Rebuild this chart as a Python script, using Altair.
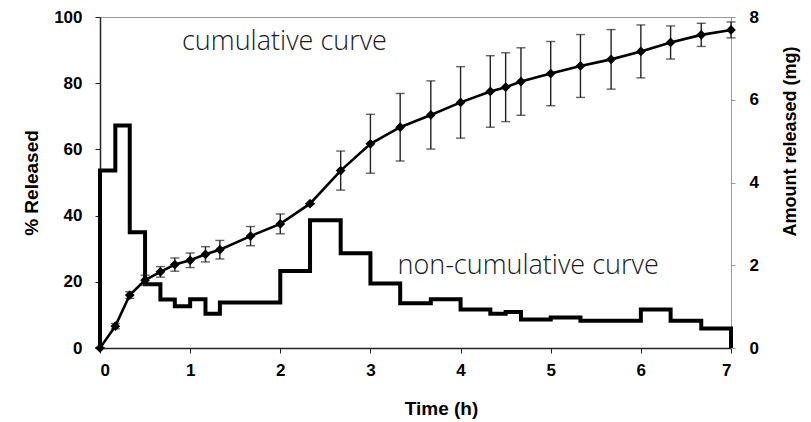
import altair as alt
import pandas as pd

# ---- data ----
times = [0, 0.17, 0.33, 0.5, 0.67, 0.83, 1, 1.17, 1.33, 1.67, 2, 2.33, 2.67, 3,
         3.33, 3.67, 4, 4.33, 4.5, 4.67, 5, 5.33, 5.67, 6, 6.33, 6.67, 7]
cum_pct = [0, 6.6, 16.0, 20.5, 23.0, 25.2, 26.5, 28.3, 29.7, 33.8, 37.5, 43.6, 53.6, 61.7,
           66.7, 70.4, 74.2, 77.5, 78.8, 80.5, 82.9, 85.2, 87.2, 89.6, 92.3, 94.6, 96.1]
cum_sd = [0, 0.8, 1.0, 1.5, 1.6, 2.0, 2.2, 2.3, 2.8, 2.9, 3.0, 0, 5.9, 8.9,
          10.2, 10.3, 10.8, 10.8, 10.4, 10.2, 9.7, 9.5, 9.0, 8.0, 5.0, 3.5, 2.4]

step_start = [0, 0.17, 0.33, 0.5, 0.67, 0.83, 1, 1.17, 1.33, 2, 2.33, 2.67, 3,
              3.33, 3.67, 4, 4.33, 4.5, 4.67, 5, 5.33, 6, 6.33, 6.67]
step_mg = [4.29, 5.38, 2.80, 1.54, 1.17, 1.01, 1.18, 0.83, 1.10, 1.86, 3.09, 2.29, 1.56,
           1.08, 1.18, 0.93, 0.83, 0.87, 0.69, 0.74, 0.66, 0.93, 0.66, 0.47]
t_end = 7

x_ticks = [0, 1, 2, 3, 4, 5, 6, 7]
left_ticks = [0, 20, 40, 60, 80, 100]
right_ticks = [0, 2, 4, 6, 8]

cum_df = pd.DataFrame({
    "t": times,
    "pct": cum_pct,
    "lo": [c - s for c, s in zip(cum_pct, cum_sd)],
    "hi": [c + s for c, s in zip(cum_pct, cum_sd)],
})

st_t = [0] + step_start + [t_end, t_end]
st_v = [0] + step_mg + [step_mg[-1], 0]
step_df = pd.DataFrame({"t": st_t, "mg": st_v, "i": list(range(len(st_t)))})

FONT = "Liberation Sans"
LAB = 17
TIT = 19

x_scale = alt.Scale(domain=[0, 7], nice=False, zero=False)
x_axis = alt.Axis(values=x_ticks, title="Time (h)", format="d", grid=False,
                  domainColor="#222", domainWidth=1.5, tickColor="#222", tickSize=5,
                  labelFont=FONT, labelFontSize=LAB, labelFontWeight="bold", labelColor="#000",
                  labelPadding=9, titleFont=FONT, titleFontSize=TIT, titleFontWeight="bold",
                  titleColor="#000", titlePadding=21, titleX=341)

y_left_scale = alt.Scale(domain=[0, 100], nice=False)
y_left_axis = alt.Axis(orient="left", values=left_ticks, title="% Released", grid=False,
                       domainColor="#222", domainWidth=1.5, tickColor="#222", tickSize=5,
                       labelFont=FONT, labelFontSize=LAB, labelFontWeight="bold",
                       labelColor="#000", labelPadding=13, titleFont=FONT, titleFontSize=TIT,
                       titleFontWeight="bold", titleColor="#000", titlePadding=12)

y_right_scale = alt.Scale(domain=[0, 8], nice=False)
y_right_axis = alt.Axis(orient="right", values=right_ticks, title="Amount released (mg)",
                        grid=False, domainColor="#999", domainWidth=1, tickColor="#999",
                        tickSize=4, labelFont=FONT, labelFontSize=LAB, labelFontWeight="bold",
                        labelColor="#000", labelPadding=14, titleFont=FONT, titleFontSize=18,
                        titleFontWeight="bold", titleColor="#000", titleAngle=270,
                        titleBaseline="top", titlePadding=23, titleY=124)

step = alt.Chart(step_df).mark_line(
    interpolate="step-after", color="#000", strokeWidth=4, strokeJoin="miter"
).encode(
    x=alt.X("t:Q", scale=x_scale, axis=x_axis),
    y=alt.Y("mg:Q", scale=y_right_scale, axis=y_right_axis),
    order="i:Q",
)

base = alt.Chart(cum_df).encode(x=alt.X("t:Q", scale=x_scale, axis=x_axis))
yl = alt.Y("pct:Q", scale=y_left_scale, axis=y_left_axis)

bars = base.mark_rule(color="#222", strokeWidth=1.4).encode(
    y=alt.Y("lo:Q", scale=y_left_scale, axis=y_left_axis), y2="hi:Q")
cap_hi = base.mark_tick(orient="horizontal", color="#222", size=9, thickness=1.4).encode(
    y=alt.Y("hi:Q", scale=y_left_scale, axis=y_left_axis))
cap_lo = base.mark_tick(orient="horizontal", color="#222", size=9, thickness=1.4).encode(
    y=alt.Y("lo:Q", scale=y_left_scale, axis=y_left_axis))
line = base.mark_line(color="#000", strokeWidth=2.6).encode(y=yl)
pts = base.mark_point(shape="diamond", filled=True, color="#000", size=95, opacity=1).encode(y=yl)

txt1 = alt.Chart(pd.DataFrame({"a": [0]})).mark_text(
    text="cumulative curve", font="Open Sans", fontSize=27, fontWeight=300,
    color="#1a1a1a", align="left", baseline="middle"
).encode(x=alt.datum(0.91), y=alt.datum(92.4))
txt2 = alt.Chart(pd.DataFrame({"a": [0]})).mark_text(
    text="non-cumulative curve", font="Open Sans", fontSize=27, fontWeight=300,
    color="#1a1a1a", align="left", baseline="middle"
).encode(x=alt.datum(3.3), y=alt.datum(24.8))

cum = alt.layer(bars, cap_hi, cap_lo, line, pts, txt1, txt2)

chart = alt.layer(step, cum).resolve_scale(y="independent").properties(
    width=631, height=331,
    autosize=alt.AutoSizeParams(type="none"),
    padding={"left": 100, "top": 17, "right": 80, "bottom": 74},
    background="white",
).configure_view(stroke="#999", strokeWidth=1)

chart.save("out.html", embed_options={"renderer": "svg", "actions": False})
